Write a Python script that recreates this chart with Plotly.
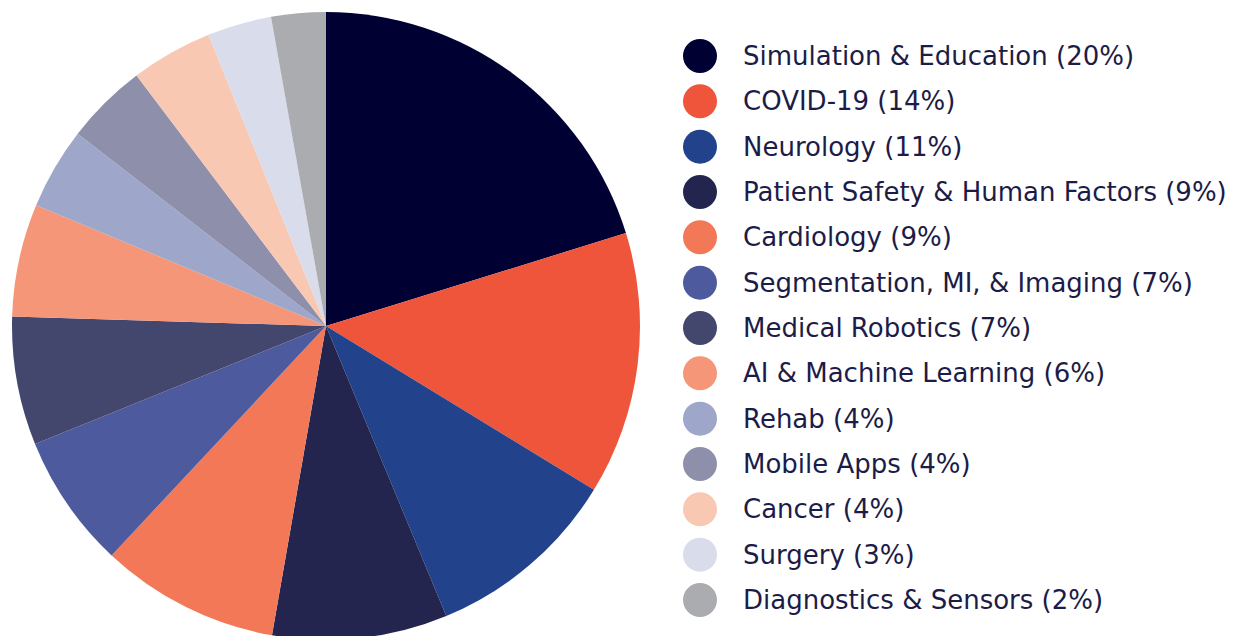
import plotly.graph_objects as go

labels = ["Simulation & Education", "COVID-19", "Neurology", "Patient Safety & Human Factors",
          "Cardiology", "Segmentation, MI, & Imaging", "Medical Robotics", "AI & Machine Learning",
          "Rehab", "Mobile Apps", "Cancer", "Surgery", "Diagnostics & Sensors"]
values = [20.2, 13.5, 10.0, 9.0, 9.2, 6.9, 6.6, 5.8, 4.2, 4.2, 4.2, 3.3, 2.8]
legend_pct = ["20%", "14%", "11%", "9%", "9%", "7%", "7%", "6%", "4%", "4%", "4%", "3%", "2%"]
colors = ["#000033", "#EE553A", "#22428C", "#23254F", "#F27857", "#4D5A9D", "#44476D",
          "#F49677", "#9EA6CA", "#8E8FAB", "#F9C8B3", "#D9DCEA", "#ABACB0"]

# page body has an 8px margin; figure coordinates below are offset by it
OFF = 8
W, H = 1231, 632
text_color = "#1C1C48"
font_family = "DejaVu Sans"

top = 12 - OFF
plot_h = H - top
r = plot_h / 2
cx = 326 - OFF

fig = go.Figure()
fig.add_trace(go.Pie(
    labels=labels, values=values, sort=False, direction="clockwise", rotation=0,
    marker=dict(colors=colors, line=dict(width=0)),
    textinfo="none", hoverinfo="label+percent", showlegend=False,
    domain=dict(x=[(cx - r) / W, (cx + r) / W], y=[0, 1]),
))

row0 = 56 - OFF - top      # first row centre within plot area
step = 45.33
idx = list(range(len(labels)))
fig.add_trace(go.Scatter(
    x=[700 - OFF] * len(labels), y=idx, mode="markers",
    marker=dict(size=34, color=colors, line=dict(width=0)),
    xaxis="x", yaxis="y", showlegend=False, hoverinfo="skip",
))

for i, (lab, pct) in enumerate(zip(labels, legend_pct)):
    fig.add_annotation(x=741 - OFF, y=i, xref="x", yref="y", text=f"{lab} ({pct})",
                       showarrow=False, xanchor="left", yanchor="middle",
                       font=dict(family=font_family, size=26, color=text_color))

x0 = 640 - OFF
fig.update_layout(
    width=W, height=H,
    margin=dict(l=0, r=0, t=top, b=0),
    paper_bgcolor="white", plot_bgcolor="rgba(0,0,0,0)",
    xaxis=dict(domain=[x0 / W, 1], range=[x0, W], visible=False, fixedrange=True),
    yaxis=dict(domain=[0, 1], range=[(plot_h - row0) / step, -row0 / step],
               visible=False, fixedrange=True),
)

fig.write_html("out.html")
